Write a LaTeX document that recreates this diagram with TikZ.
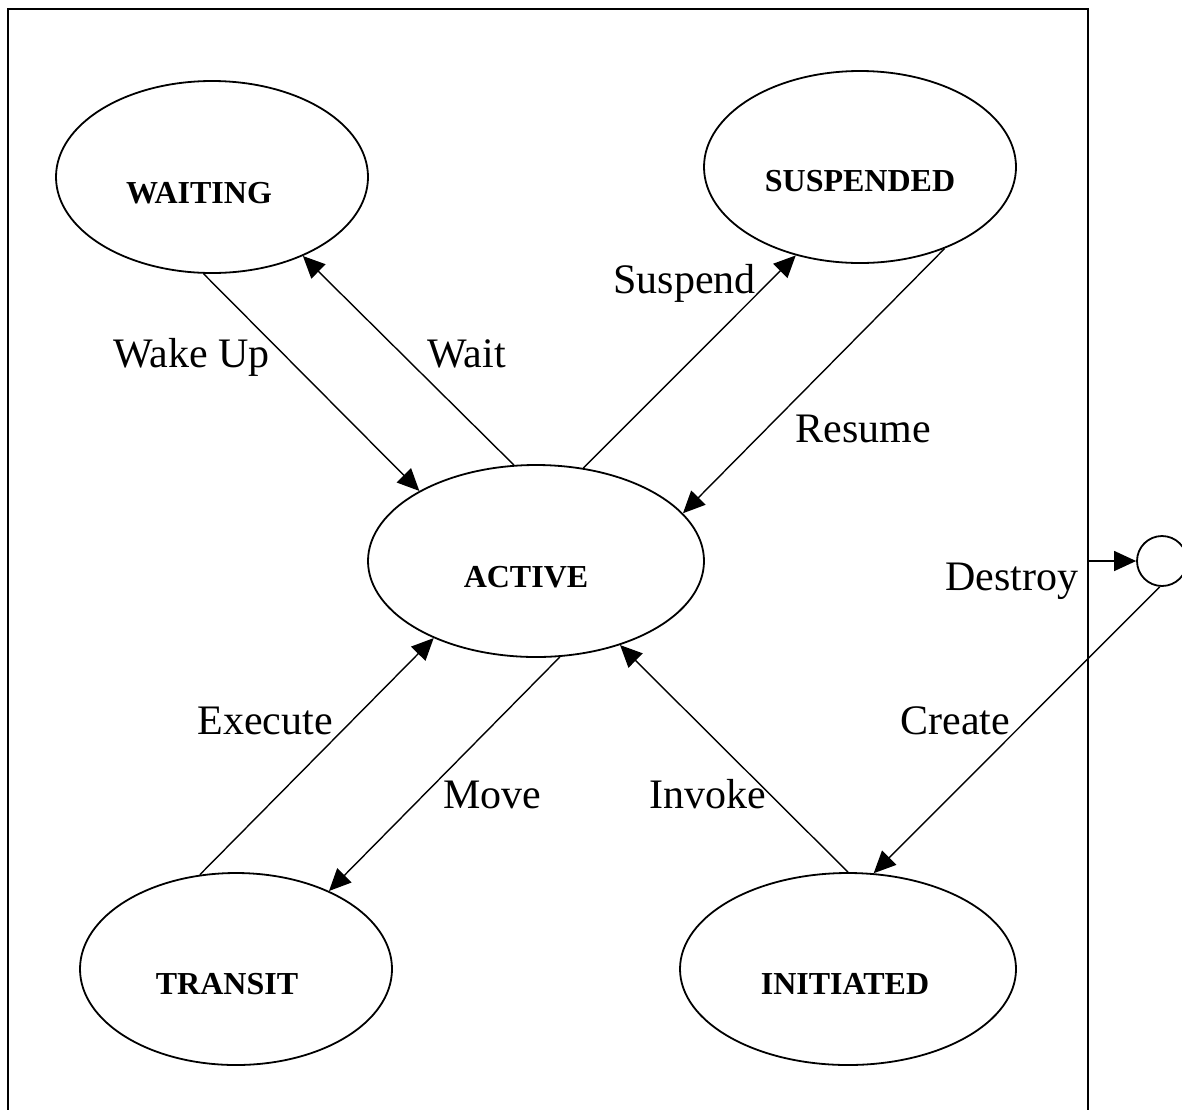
\documentclass[tikz,border=0pt]{standalone}
\usepackage{fontspec}
\setmainfont{Liberation Serif}
\usetikzlibrary{arrows.meta,shapes.geometric}

\tikzset{
  state/.style={draw, ellipse, line width=0.9pt, minimum height=96pt, inner sep=0pt},
  statename/.style={inner sep=0pt, anchor=base, font=\bfseries\fontsize{16pt}{19pt}\selectfont},
  trans/.style={line width=0.7pt, -{Triangle[length=11pt,width=10pt]}},
  translabel/.style={inner sep=0pt, anchor=base west, font=\fontsize{21pt}{25pt}\selectfont},
  frameline/.style={line width=1pt}
}

\begin{document}
\begin{tikzpicture}[x=0.5pt, y=-0.5pt]
  \useasboundingbox (0,0) rectangle (1182,1109);

  % enclosing frame (open at the bottom)
  \draw[frameline] (8,1115) -- (8,9) -- (1088,9) -- (1088,1115);

  % states
  \node[state, minimum width=156pt] (waiting)   at (212,177) {};
  \node[state, minimum width=156pt] (suspended) at (860,167) {};
  \node[state, minimum width=168pt] (active)    at (536,561) {};
  \node[state, minimum width=156pt] (transit)   at (236,969) {};
  \node[state, minimum width=168pt] (initiated) at (848,969) {};
  \node[draw, circle, line width=0.9pt, minimum size=25pt, inner sep=0pt] (sink) at (1162,561) {};
  \coordinate (exitpt) at (1088,561);

  % state names
  \node[statename] (waitingname)   at (199,203) {WAITING};
  \node[statename] (suspendedname) at (860,191) {SUSPENDED};
  \node[statename] (activename)    at (526,587) {ACTIVE};
  \node[statename] (transitname)   at (227,994) {TRANSIT};
  \node[statename] (initiatedname) at (845,994) {INITIATED};

  % transitions
  \draw[trans] (waiting.265)   -- (active.149);
  \draw[trans] (active.103)    -- (waiting.319);
  \draw[trans] (active.63)     -- (suspended.234);
  \draw[trans] (suspended.316) -- (active.18);
  \draw[trans] (transit.111)   -- (active.217);
  \draw[trans] (active.284)    -- (transit.40);
  \draw[trans] (initiated.90)  -- (active.315);
  \draw[trans] (sink.265)      -- (initiated.75);
  \draw[trans] (exitpt)        -- (sink.west);

  % transition labels
  \node[translabel] (lwake)    at (113,367) {Wake Up};
  \node[translabel] (lwait)    at (427,367) {Wait};
  \node[translabel] (lsuspend) at (613,293) {Suspend};
  \node[translabel] (lresume)  at (795,442) {Resume};
  \node[translabel] (ldestroy) at (945,590) {Destroy};
  \node[translabel] (lexecute) at (197,734) {Execute};
  \node[translabel] (lmove)    at (443,808) {Move};
  \node[translabel] (linvoke)  at (649,808) {Invoke};
  \node[translabel] (lcreate)  at (900,734) {Create};
\end{tikzpicture}
\end{document}
